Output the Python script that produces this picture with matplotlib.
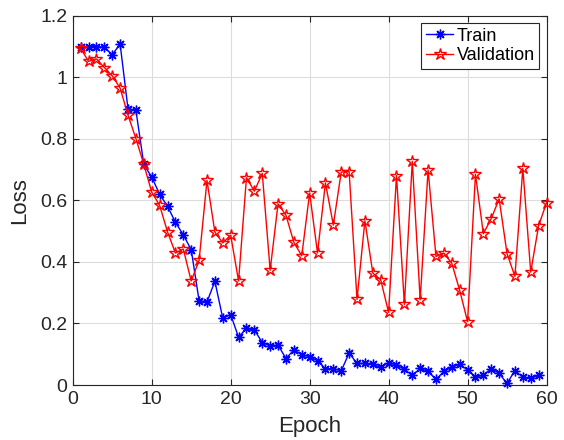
import numpy as np
import matplotlib
matplotlib.use("Agg")
import matplotlib.pyplot as plt

plt.rcParams['font.family'] = ['Liberation Sans', 'DejaVu Sans']

# training loss, epochs 1..59
train_loss = [1.10, 1.10, 1.10, 1.098, 1.074, 1.108, 0.897, 0.893, 0.717, 0.676,
              0.62, 0.581, 0.529, 0.488, 0.44, 0.274, 0.27, 0.337, 0.217, 0.229,
              0.155, 0.184, 0.179, 0.138, 0.127, 0.13, 0.086, 0.114, 0.099, 0.092,
              0.079, 0.053, 0.053, 0.046, 0.104, 0.07, 0.07, 0.067, 0.057, 0.073,
              0.065, 0.051, 0.031, 0.054, 0.044, 0.018, 0.044, 0.058, 0.067, 0.049,
              0.027, 0.031, 0.053, 0.038, 0.005, 0.047, 0.025, 0.022, 0.031]

# validation loss, epochs 1..60
val_loss = [1.094, 1.052, 1.06, 1.032, 1.005, 0.965, 0.877, 0.801, 0.717, 0.627,
            0.584, 0.498, 0.429, 0.442, 0.338, 0.405, 0.665, 0.497, 0.462, 0.487,
            0.338, 0.674, 0.63, 0.688, 0.373, 0.589, 0.552, 0.464, 0.42, 0.624,
            0.429, 0.657, 0.52, 0.692, 0.694, 0.278, 0.534, 0.364, 0.342, 0.236,
            0.681, 0.262, 0.727, 0.277, 0.699, 0.418, 0.429, 0.396, 0.308, 0.206,
            0.685, 0.492, 0.541, 0.605, 0.427, 0.353, 0.704, 0.367, 0.518, 0.592]

train_epochs = np.arange(1, len(train_loss) + 1)
val_epochs = np.arange(1, len(val_loss) + 1)

fig = plt.figure(figsize=(5.64, 4.4), dpi=100)
ax = fig.add_axes([0.129, 0.125, 0.840, 0.839])

# asterisk marker (4 crossing strokes) like MATLAB '*'
ax.plot(train_epochs, train_loss, color='blue', marker=(8, 2, 0), markersize=7,
        markeredgewidth=1, linewidth=1, label='Train', clip_on=False, zorder=3)
ax.plot(val_epochs, val_loss, color='red', marker='*', markersize=9,
        markerfacecolor='none', markeredgewidth=1, linewidth=1,
        label='Validation', clip_on=False, zorder=4)

ax.set_xlim(0, 60)
ax.set_ylim(0, 1.2)
ax.set_xticks(np.arange(0, 61, 10))
ax.set_yticks(np.arange(0, 1.21, 0.2))
ax.set_yticklabels(['0', '0.2', '0.4', '0.6', '0.8', '1', '1.2'])

ax.grid(True, color='#dcdcdc', linewidth=0.8)
ax.set_axisbelow(True)
for sp in ax.spines.values():
    sp.set_color('#262626')
    sp.set_linewidth(0.8)
ax.tick_params(direction='in', top=True, right=True, length=4, pad=4,
               labelsize=14, colors='#262626', labelcolor='#262626')

ax.set_xlabel('Epoch', fontsize=16, color='#262626', labelpad=6)
ax.set_ylabel('Loss', fontsize=16, color='#262626', labelpad=7)

leg = ax.legend(loc='upper right', fontsize=13, fancybox=False,
                edgecolor='#262626', framealpha=1, borderpad=0.25,
                handlelength=1.5, handletextpad=0.2, labelspacing=0.15,
                borderaxespad=0.4)
leg.get_frame().set_linewidth(0.8)

fig.savefig('out.png', dpi=100)
